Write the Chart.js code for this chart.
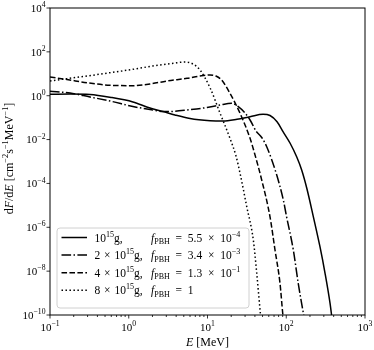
<!DOCTYPE html>
<html>
<head>
<meta charset="utf-8">
<script src="https://cdn.jsdelivr.net/npm/chart.js@4.4.1/dist/chart.umd.min.js"></script>
<style>
html, body { margin: 0; padding: 0; background: #fff; }
#wrap { width: 374px; height: 350px; }
</style>
</head>
<body>
<div id="wrap"><canvas id="pbhChart" width="374" height="350"></canvas></div>
<script>
// ---- data (E in MeV, dF/dE in cm^-2 s^-1 MeV^-1) ----
const energy1 = [0.1, 0.18, 0.322, 0.578, 1.13, 1.86, 2.72, 3.86, 6.0, 10.8, 15.7, 23.7, 34.7, 50.7, 62.2, 76.4, 91, 112, 136, 157, 182, 221, 268, 311, 360, 381];
const flux1   = [1.16, 1.20, 1.14, 0.85, 0.52, 0.275, 0.19, 0.132, 0.091, 0.0726, 0.070, 0.084, 0.110, 0.142, 0.125, 0.065, 0.023, 6.8e-3, 1.6e-3, 4.1e-4, 6.2e-5, 3.0e-6, 1.3e-7, 8.0e-9, 3.4e-10, 7e-11];

const energy2 = [0.1, 0.18, 0.322, 0.578, 1.13, 1.86, 2.72, 3.86, 5.5, 9.86, 14.4, 20.3, 24.6, 29.9, 34.7, 41.3, 48.8, 56.5, 75.7, 91.8, 101, 123, 142, 165, 171];
const flux2   = [1.59, 1.33, 0.875, 0.574, 0.322, 0.235, 0.19, 0.195, 0.223, 0.29, 0.378, 0.451, 0.316, 0.163, 0.078, 0.0246, 0.0124, 4.7e-3, 2.4e-4, 1.76e-5, 3.0e-6, 9.2e-8, 2.8e-9, 1.2e-10, 6e-11];

const energy4 = [0.1, 0.164, 0.295, 0.578, 1.13, 1.86, 3.06, 5.5, 8.03, 10.8, 12.8, 15.1, 19.3, 25.9, 34.7, 40.1, 48.8, 62.2, 72, 83.3, 90.2, 92.3];
const flux4   = [7.1, 5.5, 3.9, 2.99, 2.87, 3.42, 4.7, 6.2, 7.9, 8.8, 7.9, 5.2, 1.29, 0.158, 0.0114, 2.0e-3, 1.44e-4, 3.0e-6, 9.2e-8, 2.8e-9, 1.2e-10, 6e-11];

const energy8 = [0.1, 0.164, 0.295, 0.578, 1.13, 2.03, 3.65, 5.18, 6.35, 8.03, 10.8, 14.4, 19.3, 23.0, 25.9, 31.5, 38.2, 42.2, 46.9, 47.8];
const flux8   = [4.7, 6.0, 7.9, 11.2, 16, 22.7, 30, 34.5, 29.5, 14.9, 2.25, 0.163, 0.0114, 1.8e-3, 2.9e-4, 8.7e-6, 2.6e-7, 8.0e-9, 1.2e-10, 6e-11];

// legend text pieces
const massFactor = ['', '2', '4', '8'];
const fCoef = ['5.5', '3.4', '1.3', '1'];
const fExp  = ['−4', '−3', '−1', ''];

// ticks
const xTicks = [0.1, 1, 10, 100, 1000];
const xTickExp = ['−1', '0', '1', '2', '3'];
const yTicks = [1e4, 1e2, 1, 1e-2, 1e-4, 1e-6, 1e-8, 1e-10];
const yTickExp = ['4', '2', '0', '−2', '−4', '−6', '−8', '−10'];

const SERIF = '"Liberation Serif", "DejaVu Serif", serif';
const SP = '\u2002';  // wide space around = and ×
const SPm = '\u2004'; // slightly narrower, used in the mass part
const dashes = [[], [9.6, 2.4, 1.5, 2.4], [5.55, 2.4], [1.5, 2.475]];

function setFont(ctx, size, italic) {
    ctx.font = (italic ? 'italic ' : '') + size + 'px ' + SERIF;
}

function partSize(p, size) {
    return (p[1] === 'sup' || p[1] === 'sub') ? size * 0.7 : size;
}

function partsWidth(ctx, parts, size) {
    let w = 0;
    parts.forEach(function(p) {
        setFont(ctx, partSize(p, size), p[1] === 'i');
        w += ctx.measureText(p[0]).width;
    });
    return w;
}

// draws text made of roman / italic / superscript / subscript pieces
function drawParts(ctx, parts, x, y, size, align) {
    const w = partsWidth(ctx, parts, size);
    let cx = align === 'center' ? x - w / 2 : (align === 'right' ? x - w : x);
    ctx.textAlign = 'left';
    ctx.textBaseline = 'alphabetic';
    parts.forEach(function(p) {
        setFont(ctx, partSize(p, size), p[1] === 'i');
        const dy = p[1] === 'sup' ? -size * 0.42 : (p[1] === 'sub' ? size * 0.22 : 0);
        ctx.fillText(p[0], cx, y + dy);
        cx += ctx.measureText(p[0]).width;
    });
}

const axesPlugin = {
    id: 'axesPlugin',
    afterDraw: function(chart) {
        const ctx = chart.ctx;
        const a = chart.chartArea;
        const xs = chart.scales.x;
        const ys = chart.scales.y;
        ctx.save();
        ctx.fillStyle = '#000';
        ctx.strokeStyle = '#000';
        ctx.setLineDash([]);

        // frame
        ctx.lineWidth = 1;
        ctx.strokeRect(a.left, a.top, a.right - a.left, a.bottom - a.top);

        // x ticks (major + minor)
        ctx.lineWidth = 0.8;
        for (let d = 0.1; d < 1000; d *= 10) {
            for (let k = 2; k < 10; k++) {
                const px = xs.getPixelForValue(k * d);
                ctx.beginPath();
                ctx.moveTo(px, a.bottom);
                ctx.lineTo(px, a.bottom + 2);
                ctx.stroke();
            }
        }
        xTicks.forEach(function(v, i) {
            const px = xs.getPixelForValue(v);
            ctx.beginPath();
            ctx.moveTo(px, a.bottom);
            ctx.lineTo(px, a.bottom + 3.5);
            ctx.stroke();
            drawParts(ctx, [['10', 'r'], [xTickExp[i], 'sup']], px, a.bottom + 16, 11, 'center');
        });

        // y ticks
        yTicks.forEach(function(v, i) {
            const py = ys.getPixelForValue(v);
            ctx.beginPath();
            ctx.moveTo(a.left, py);
            ctx.lineTo(a.left - 3.5, py);
            ctx.stroke();
            drawParts(ctx, [['10', 'r'], [yTickExp[i], 'sup']], a.left - 4.5, py + 3.8, 11, 'right');
        });

        // axis titles
        drawParts(ctx, [['E', 'i'], [' [MeV]', 'r']], (a.left + a.right) / 2, 346, 12, 'center');
        ctx.save();
        ctx.translate(13, (a.top + a.bottom) / 2 - 3);
        ctx.rotate(-Math.PI / 2);
        drawParts(ctx, [['d', 'r'], ['F', 'i'], ['/d', 'r'], ['E', 'i'], [' [cm', 'r'], ['−2', 'sup'],
            ['s', 'r'], ['−1', 'sup'], ['MeV', 'r'], ['−1', 'sup'], [']', 'r']], 0, 0, 12, 'center');
        ctx.restore();

        // legend
        const lx = a.left + 7, ly = a.top + 220, lw = 192, lh = 80;
        ctx.beginPath();
        ctx.roundRect(lx, ly, lw, lh, 3);
        ctx.fillStyle = 'rgba(255,255,255,0.8)';
        ctx.fill();
        ctx.strokeStyle = '#d0d0d0';
        ctx.lineWidth = 1;
        ctx.stroke();
        ctx.fillStyle = '#000';
        ctx.strokeStyle = '#000';
        for (let i = 0; i < 4; i++) {
            const ry = ly + 9.5 + i * 17.6;
            ctx.lineWidth = 1.5;
            ctx.setLineDash(dashes[i]);
            ctx.beginPath();
            ctx.moveTo(lx + 4.5, ry);
            ctx.lineTo(lx + 30, ry);
            ctx.stroke();
            ctx.setLineDash([]);
            const mass = massFactor[i] ? [[massFactor[i] + SPm + '×' + SPm + '10', 'r']] : [['10', 'r']];
            mass.push(['15', 'sup'], ['g,', 'r']);
            drawParts(ctx, mass, lx + 37.5, ry + 4, 11.5, 'left');
            const f = [['f', 'i'], ['PBH', 'sub'], [SP + '=' + SP + fCoef[i] + (fExp[i] ? SP + '×' + SP + '10' : ''), 'r']];
            if (fExp[i]) f.push([fExp[i], 'sup']);
            drawParts(ctx, f, lx + 94, ry + 4, 11.5, 'left');
        }
        ctx.restore();
    }
};

function points(xs, ys) {
    return xs.map(function(x, i) { return { x: x, y: ys[i] }; });
}

const series = [[energy1, flux1], [energy2, flux2], [energy4, flux4], [energy8, flux8]];

new Chart(document.getElementById('pbhChart'), {
    type: 'line',
    data: {
        datasets: series.map(function(s, i) {
            return {
                data: points(s[0], s[1]),
                borderColor: '#000',
                borderWidth: 1.5,
                borderDash: dashes[i],
                borderCapStyle: 'butt',
                pointRadius: 0,
                cubicInterpolationMode: 'monotone',
                fill: false
            };
        })
    },
    options: {
        responsive: false,
        devicePixelRatio: 1,
        animation: false,
        layout: { padding: { top: 8, right: 9, left: 0, bottom: 0 } },
        plugins: { legend: { display: false }, tooltip: { enabled: false } },
        scales: {
            x: {
                type: 'logarithmic', min: 0.1, max: 1000,
                grid: { display: false }, border: { display: false },
                ticks: { display: false },
                afterFit: function(s) { s.height = 35; }
            },
            y: {
                type: 'logarithmic', min: 1e-10, max: 1e4,
                grid: { display: false }, border: { display: false },
                ticks: { display: false },
                afterFit: function(s) { s.width = 50; }
            }
        }
    },
    plugins: [axesPlugin]
});
</script>
</body>
</html>
